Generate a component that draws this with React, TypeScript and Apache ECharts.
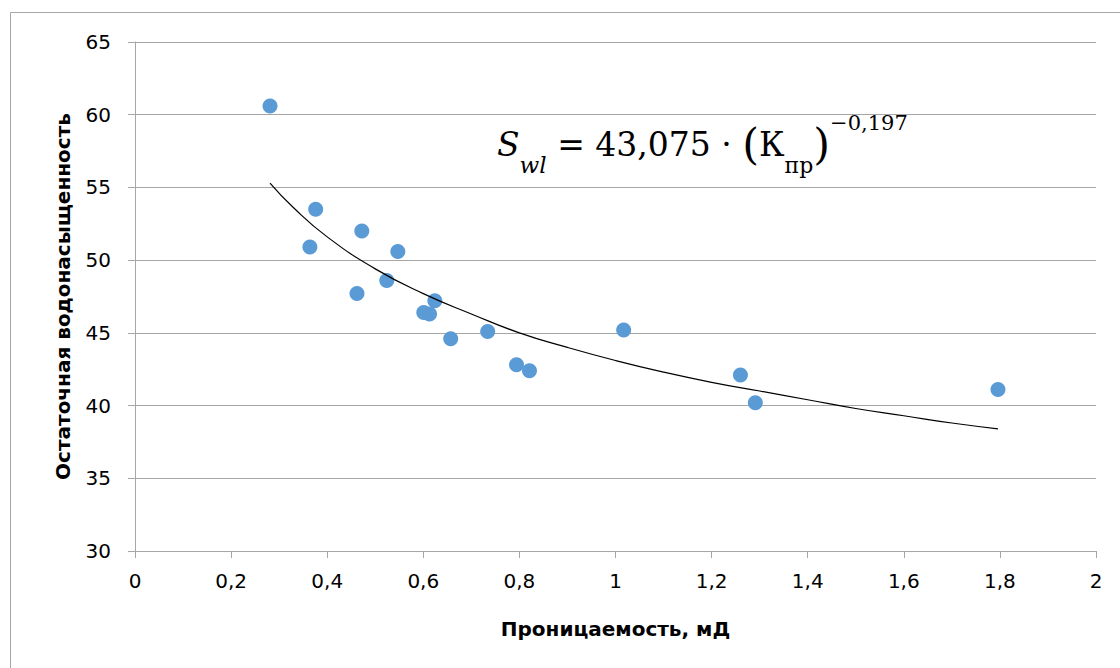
import React, { useEffect, useRef } from "react";
import * as echarts from "echarts";

const permeability = [0.281, 0.364, 0.376, 0.462, 0.472, 0.524, 0.547, 0.601, 0.613, 0.624, 0.657, 0.734, 0.794, 0.821, 1.017, 1.26, 1.291, 1.796];
const saturation = [60.6, 50.9, 53.5, 47.7, 52.0, 48.6, 50.6, 46.4, 46.3, 47.2, 44.6, 45.1, 42.8, 42.4, 45.2, 42.1, 40.2, 41.1];

const trendX = [0.281, 0.33, 0.4, 0.5, 0.6, 0.7, 0.8, 0.9, 1.0, 1.1, 1.2, 1.3, 1.4, 1.5, 1.6, 1.7, 1.796];
const trendY = [55.3, 53.6, 51.6, 49.4, 47.7, 46.3, 45.0, 44.0, 43.1, 42.3, 41.6, 41.0, 40.4, 39.8, 39.3, 38.8, 38.4];

const xTicks = ["0", "0,2", "0,4", "0,6", "0,8", "1", "1,2", "1,4", "1,6", "1,8", "2"];

export default function App() {
  const ref = useRef<HTMLDivElement>(null);
  useEffect(() => {
    const chart = echarts.init(ref.current!, null, { renderer: "svg" });
    const serif = "DejaVu Serif";
    chart.setOption({
      animation: false,
      backgroundColor: "#ffffff",
      grid: { left: 135, right: 24, top: 42, bottom: 117 },
      graphic: [
        {
          type: "rect",
          shape: { x: 10.5, y: 12.5, width: 1200, height: 800 },
          style: { fill: "none", stroke: "#a6a6a6", lineWidth: 1 },
          silent: true,
        },
        {
          type: "text",
          x: 497,
          y: 112,
          style: {
            text: "{s|S}{sub|wl}{m| = 43,075 · }{p|(}{m|К}{subr|пр}{p|)}{sup|−0,197}",
            rich: {
              s: { fontFamily: serif, fontStyle: "italic", fontSize: 33, fill: "#000", verticalAlign: "middle", lineHeight: 64 },
              m: { fontFamily: serif, fontSize: 33, fill: "#000", verticalAlign: "middle", lineHeight: 64 },
              p: { fontFamily: serif, fontSize: 43, fill: "#000", verticalAlign: "middle", lineHeight: 64 },
              sub: { fontFamily: serif, fontStyle: "italic", fontSize: 23, fill: "#000", verticalAlign: "bottom", lineHeight: 38 },
              subr: { fontFamily: serif, fontSize: 22, fill: "#000", verticalAlign: "bottom", lineHeight: 34 },
              sup: { fontFamily: serif, fontSize: 21, fill: "#000", verticalAlign: "top", lineHeight: 26 },
            },
          },
        },
      ],
      xAxis: {
        type: "value",
        min: 0,
        max: 2,
        interval: 0.2,
        name: "Проницаемость, мД",
        nameLocation: "middle",
        nameGap: 68,
        nameTextStyle: { fontFamily: "DejaVu Sans", fontWeight: "bold", fontSize: 20, color: "#000" },
        axisLine: { show: true, lineStyle: { color: "#a6a6a6", width: 1 } },
        axisTick: { show: true, inside: false, length: 7, lineStyle: { color: "#a6a6a6" } },
        splitLine: { show: false },
        axisLabel: {
          fontFamily: "DejaVu Sans",
          fontSize: 20,
          color: "#000",
          margin: 20,
          formatter: (v: number) => xTicks[Math.round(v / 0.2)] ?? "",
        },
      },
      yAxis: {
        type: "value",
        min: 30,
        max: 65,
        interval: 5,
        name: "Остаточная водонасыщенность",
        nameLocation: "middle",
        nameGap: 62,
        nameTextStyle: { fontFamily: "DejaVu Sans", fontWeight: "bold", fontSize: 20, color: "#000" },
        axisLine: { show: true, lineStyle: { color: "#a6a6a6", width: 1 } },
        axisTick: { show: true, inside: false, length: 7, lineStyle: { color: "#a6a6a6" } },
        splitLine: { show: true, lineStyle: { color: "#a6a6a6", width: 1 } },
        axisLabel: { fontFamily: "DejaVu Sans", fontSize: 20, color: "#000", margin: 24 },
      },
      series: [
        {
          type: "line",
          data: trendX.map((x, i) => [x, trendY[i]]),
          smooth: true,
          showSymbol: false,
          symbol: "none",
          lineStyle: { color: "#000", width: 1.2 },
          z: 3,
        },
        {
          type: "scatter",
          data: permeability.map((x, i) => [x, saturation[i]]),
          symbol: "circle",
          symbolSize: 15,
          itemStyle: { color: "#5b9bd5", opacity: 1 },
          z: 2,
        },
      ],
    });
    return () => chart.dispose();
  }, []);
  return <div ref={ref} style={{ width: 1120, height: 668, position: "absolute", left: 0, top: 0 }} />;
}
